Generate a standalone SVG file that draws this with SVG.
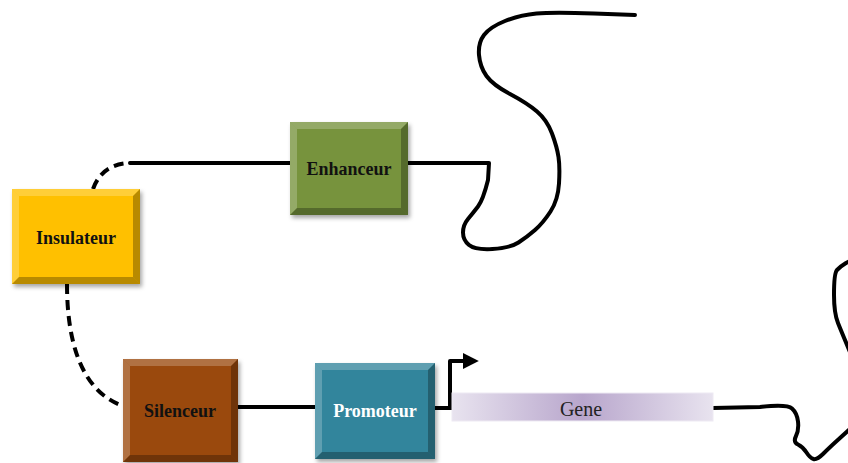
<svg xmlns="http://www.w3.org/2000/svg" width="848" height="463" viewBox="0 0 848 463">
<defs>
<style>
.wire{fill:none;stroke:#000;stroke-width:4;stroke-linejoin:round;stroke-linecap:round}
.dash{fill:none;stroke:#000;stroke-width:4;stroke-dasharray:10 6}
.hl{fill:#fff;fill-opacity:0.22}
.sh{fill:#000;fill-opacity:0.28}
.lbl{font-family:"Liberation Serif","Times New Roman",serif;font-weight:bold;font-size:18px;text-anchor:middle}
</style>
<filter id="ds" x="-20%" y="-20%" width="140%" height="140%">
<feDropShadow dx="2" dy="3" stdDeviation="2" flood-color="#000" flood-opacity="0.35"/>
</filter>
<linearGradient id="gg" x1="0" y1="0" x2="1" y2="0">
<stop offset="0" stop-color="#E8E3EF"/>
<stop offset="0.5" stop-color="#B8A6CC"/>
<stop offset="1" stop-color="#E8E3EF"/>
</linearGradient>
<marker id="ah" viewBox="0 0 10 10" refX="2" refY="5" markerWidth="4" markerHeight="4" markerUnits="strokeWidth" orient="auto">
<path d="M0,0 L10,5 L0,10 z" fill="#000"/>
</marker>
</defs>

<g id="connectors">
<path class="dash" d="M93,189 Q102,164 130,163"/>
<path class="wire" d="M130,163 L290,163"/>
<path class="dash" d="M67,284 C67,335 78,390 123,406"/>
<path class="wire" d="M238,407 L315,407"/>
<path class="wire" d="M435,408 L452,408"/>
<path class="wire" d="M450,408 L450,361 L466,361" marker-end="url(#ah)"/>
<path class="wire" d="M408,163 L489,163 L488,180 Q483,200 478,206.5 Q473,213 468,219 Q463,225 463,232.5 Q463,240 469,245 Q475,250 492.5,249 Q510,248 518.5,242.5 Q527,237 535,230 Q543,223 550.5,211.5 Q558,200 559,183.5 Q560,167 558.5,157 Q557,147 552,133.5 Q547,120 537,111.5 Q527,103 510,94 Q493,85 486.5,76 Q480,67 479,55 Q478,43 484,35 Q490,27 505,21 Q520,15 536.5,13.5 Q553,12 594,13.5 L635,15"/>
<path class="wire" d="M713,408 L760,407 Q787,404 792,408.5 Q797,413 798,421.5 Q799,430 796,436 Q793,442 798,444.5 Q803,447 806.5,452.5 Q810,458 813.5,459 Q817,460 823.5,453.5 Q830,447 840,438 L850,429"/>
<path class="wire" d="M850,352 Q842,333 838,323 Q834,313 834,295 Q834,273 837,270 Q841,266 846,263 L850,261"/>
</g>

<g id="insulateur">
<rect x="12" y="189" width="128" height="95" fill="#FFC000" filter="url(#ds)"/>
<polygon class="hl" points="12,189 140,189 133,196 19,196"/>
<polygon class="hl" points="12,189 19,196 19,277 12,284"/>
<polygon class="sh" points="140,189 140,284 133,277 133,196"/>
<polygon class="sh" points="12,284 140,284 133,277 19,277"/>
<text class="lbl" x="76" y="244" fill="#111">Insulateur</text>
</g>

<g id="enhanceur">
<rect x="290" y="122" width="118" height="93" fill="#77933C" filter="url(#ds)"/>
<polygon class="hl" points="290,122 408,122 401,129 297,129"/>
<polygon class="hl" points="290,122 297,129 297,208 290,215"/>
<polygon class="sh" points="408,122 408,215 401,208 401,129"/>
<polygon class="sh" points="290,215 408,215 401,208 297,208"/>
<text class="lbl" x="349" y="175" fill="#111">Enhanceur</text>
</g>

<g id="silenceur">
<rect x="123" y="359" width="115" height="103" fill="#9A4A0C" filter="url(#ds)"/>
<polygon class="hl" points="123,359 238,359 231,366 130,366"/>
<polygon class="hl" points="123,359 130,366 130,455 123,462"/>
<polygon class="sh" points="238,359 238,462 231,455 231,366"/>
<polygon class="sh" points="123,462 238,462 231,455 130,455"/>
<text class="lbl" x="180" y="417" fill="#111">Silenceur</text>
</g>

<g id="promoteur">
<rect x="315" y="363" width="120" height="96" fill="#31859C" filter="url(#ds)"/>
<polygon class="hl" points="315,363 435,363 428,370 322,370"/>
<polygon class="hl" points="315,363 322,370 322,452 315,459"/>
<polygon class="sh" points="435,363 435,459 428,452 428,370"/>
<polygon class="sh" points="315,459 435,459 428,452 322,452"/>
<text class="lbl" x="375" y="417" fill="#fff">Promoteur</text>
</g>

<g id="gene">
<rect x="452" y="393" width="261" height="28" fill="url(#gg)" stroke="#EEEAF3" stroke-width="1"/>
<text x="581" y="416" font-family="'Liberation Serif','Times New Roman',serif" font-size="20" text-anchor="middle" fill="#222">Gene</text>
</g>
</svg>
